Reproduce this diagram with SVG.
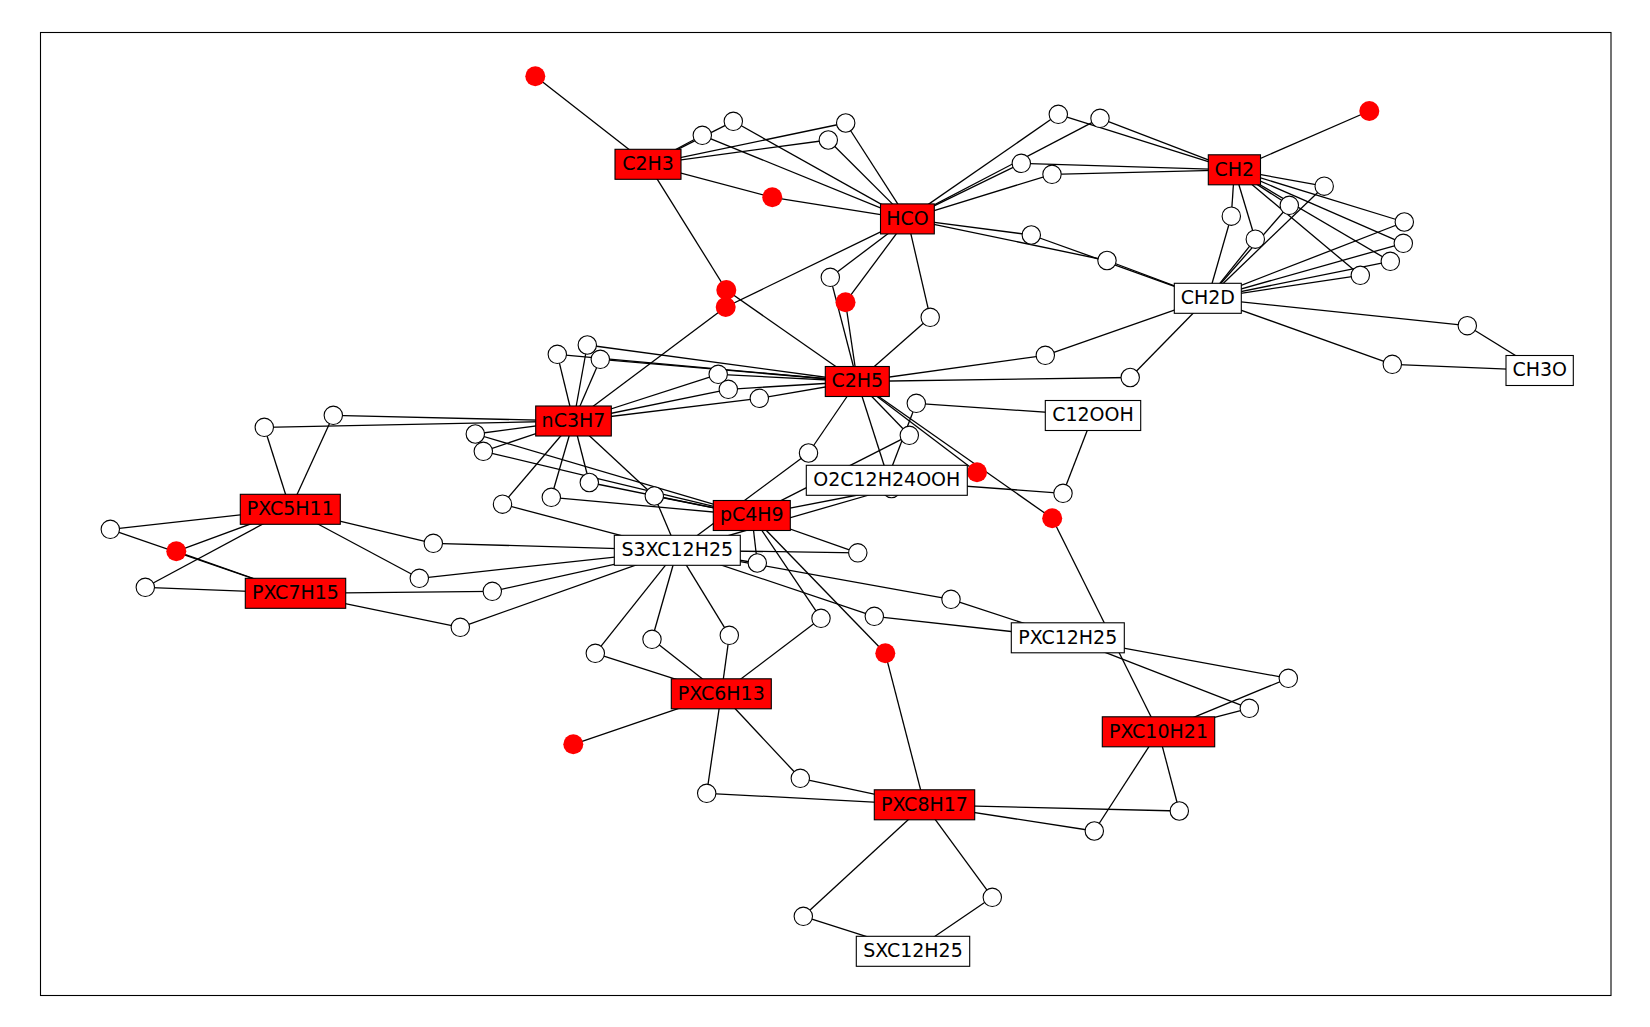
<svg xmlns="http://www.w3.org/2000/svg" width="1650" height="1027" viewBox="0 0 1650 1027">
<style>
.e line{stroke:#000;stroke-width:1.3}
.w{fill:#fff;stroke:#000;stroke-width:1.1}
.r{fill:#f00;stroke:none}
.bw{fill:#fff;stroke:#000;stroke-width:1.1}
.br{fill:#f00;stroke:#000;stroke-width:1.1}
text{font-family:"DejaVu Sans","Liberation Sans",sans-serif;font-size:19px;text-anchor:middle;fill:#000}
</style>
<rect x="0" y="0" width="1650" height="1027" fill="#fff"/>
<rect x="40.5" y="32.5" width="1570.5" height="963" fill="none" stroke="#000" stroke-width="1.1"/>
<g id="connectors" class="e">
<line x1="648" y1="164.3" x2="535.3" y2="76.3"/>
<line x1="648" y1="164.3" x2="702.3" y2="135.3"/>
<line x1="648" y1="164.3" x2="733.3" y2="121.3"/>
<line x1="648" y1="164.3" x2="845.7" y2="123"/>
<line x1="648" y1="164.3" x2="828.3" y2="140"/>
<line x1="648" y1="164.3" x2="772.3" y2="197.3"/>
<line x1="648" y1="164.3" x2="726.3" y2="290"/>
<line x1="907.4" y1="218.9" x2="702.3" y2="135.3"/>
<line x1="907.4" y1="218.9" x2="733.3" y2="121.3"/>
<line x1="907.4" y1="218.9" x2="845.7" y2="123"/>
<line x1="907.4" y1="218.9" x2="828.3" y2="140"/>
<line x1="907.4" y1="218.9" x2="772.3" y2="197.3"/>
<line x1="907.4" y1="218.9" x2="725.7" y2="307"/>
<line x1="907.4" y1="218.9" x2="830.3" y2="277.3"/>
<line x1="907.4" y1="218.9" x2="845.5" y2="302.2"/>
<line x1="907.4" y1="218.9" x2="930.2" y2="317.3"/>
<line x1="907.4" y1="218.9" x2="1058.3" y2="114.3"/>
<line x1="907.4" y1="218.9" x2="1100" y2="118.3"/>
<line x1="907.4" y1="218.9" x2="1021.3" y2="163.3"/>
<line x1="907.4" y1="218.9" x2="1052" y2="174.3"/>
<line x1="907.4" y1="218.9" x2="1031.3" y2="235"/>
<line x1="907.4" y1="218.9" x2="1107" y2="260.5"/>
<line x1="1234.4" y1="169.8" x2="1058.3" y2="114.3"/>
<line x1="1234.4" y1="169.8" x2="1100" y2="118.3"/>
<line x1="1234.4" y1="169.8" x2="1021.3" y2="163.3"/>
<line x1="1234.4" y1="169.8" x2="1052" y2="174.3"/>
<line x1="1234.4" y1="169.8" x2="1369.3" y2="111"/>
<line x1="1234.4" y1="169.8" x2="1324.2" y2="186.2"/>
<line x1="1234.4" y1="169.8" x2="1289.3" y2="205.3"/>
<line x1="1234.4" y1="169.8" x2="1231.3" y2="216.2"/>
<line x1="1234.4" y1="169.8" x2="1255.3" y2="239.2"/>
<line x1="1234.4" y1="169.8" x2="1404.3" y2="222"/>
<line x1="1234.4" y1="169.8" x2="1403.3" y2="243.3"/>
<line x1="1234.4" y1="169.8" x2="1390.3" y2="261.3"/>
<line x1="1234.4" y1="169.8" x2="1360.3" y2="275.3"/>
<line x1="1207.8" y1="298.3" x2="1324.2" y2="186.2"/>
<line x1="1207.8" y1="298.3" x2="1289.3" y2="205.3"/>
<line x1="1207.8" y1="298.3" x2="1231.3" y2="216.2"/>
<line x1="1207.8" y1="298.3" x2="1255.3" y2="239.2"/>
<line x1="1207.8" y1="298.3" x2="1404.3" y2="222"/>
<line x1="1207.8" y1="298.3" x2="1403.3" y2="243.3"/>
<line x1="1207.8" y1="298.3" x2="1390.3" y2="261.3"/>
<line x1="1207.8" y1="298.3" x2="1360.3" y2="275.3"/>
<line x1="1207.8" y1="298.3" x2="1031.3" y2="235"/>
<line x1="1207.8" y1="298.3" x2="1107" y2="260.5"/>
<line x1="1207.8" y1="298.3" x2="1045.3" y2="355.3"/>
<line x1="1207.8" y1="298.3" x2="1130.2" y2="377.5"/>
<line x1="1207.8" y1="298.3" x2="1467.3" y2="325.7"/>
<line x1="1207.8" y1="298.3" x2="1392.3" y2="364.3"/>
<line x1="1539.7" y1="370.5" x2="1467.3" y2="325.7"/>
<line x1="1539.7" y1="370.5" x2="1392.3" y2="364.3"/>
<line x1="857.3" y1="381.5" x2="726.3" y2="290"/>
<line x1="857.3" y1="381.5" x2="830.3" y2="277.3"/>
<line x1="857.3" y1="381.5" x2="845.5" y2="302.2"/>
<line x1="857.3" y1="381.5" x2="930.2" y2="317.3"/>
<line x1="857.3" y1="381.5" x2="1045.3" y2="355.3"/>
<line x1="857.3" y1="381.5" x2="1130.2" y2="377.5"/>
<line x1="857.3" y1="381.5" x2="557.3" y2="354.3"/>
<line x1="857.3" y1="381.5" x2="587.3" y2="345"/>
<line x1="857.3" y1="381.5" x2="600.3" y2="359.3"/>
<line x1="857.3" y1="381.5" x2="718.2" y2="374.3"/>
<line x1="857.3" y1="381.5" x2="728.3" y2="389.3"/>
<line x1="857.3" y1="381.5" x2="759.3" y2="398.3"/>
<line x1="857.3" y1="381.5" x2="808.5" y2="453"/>
<line x1="857.3" y1="381.5" x2="909.3" y2="435.3"/>
<line x1="857.3" y1="381.5" x2="891.5" y2="488.5"/>
<line x1="857.3" y1="381.5" x2="977" y2="472.3"/>
<line x1="857.3" y1="381.5" x2="1052.2" y2="518.3"/>
<line x1="573.5" y1="421" x2="725.7" y2="307"/>
<line x1="573.5" y1="421" x2="557.3" y2="354.3"/>
<line x1="573.5" y1="421" x2="587.3" y2="345"/>
<line x1="573.5" y1="421" x2="600.3" y2="359.3"/>
<line x1="573.5" y1="421" x2="718.2" y2="374.3"/>
<line x1="573.5" y1="421" x2="728.3" y2="389.3"/>
<line x1="573.5" y1="421" x2="759.3" y2="398.3"/>
<line x1="573.5" y1="421" x2="475.3" y2="434"/>
<line x1="573.5" y1="421" x2="483.3" y2="451.3"/>
<line x1="573.5" y1="421" x2="589.3" y2="482.5"/>
<line x1="573.5" y1="421" x2="551.3" y2="497.3"/>
<line x1="573.5" y1="421" x2="654.3" y2="496"/>
<line x1="573.5" y1="421" x2="502.5" y2="504.2"/>
<line x1="573.5" y1="421" x2="264.3" y2="427.3"/>
<line x1="573.5" y1="421" x2="333.3" y2="415.3"/>
<line x1="1093" y1="415.5" x2="916.3" y2="403.3"/>
<line x1="1093" y1="415.5" x2="1063" y2="493.3"/>
<line x1="886.8" y1="480.3" x2="916.3" y2="403.3"/>
<line x1="886.8" y1="480.3" x2="1063" y2="493.3"/>
<line x1="751.8" y1="515.5" x2="475.3" y2="434"/>
<line x1="751.8" y1="515.5" x2="483.3" y2="451.3"/>
<line x1="751.8" y1="515.5" x2="589.3" y2="482.5"/>
<line x1="751.8" y1="515.5" x2="551.3" y2="497.3"/>
<line x1="751.8" y1="515.5" x2="654.3" y2="496"/>
<line x1="751.8" y1="515.5" x2="909.3" y2="435.3"/>
<line x1="751.8" y1="515.5" x2="891.5" y2="488.5"/>
<line x1="751.8" y1="515.5" x2="857.8" y2="552.8"/>
<line x1="751.8" y1="515.5" x2="757.3" y2="563"/>
<line x1="751.8" y1="515.5" x2="821" y2="618.3"/>
<line x1="751.8" y1="515.5" x2="885.3" y2="653.3"/>
<line x1="677.3" y1="550.3" x2="654.3" y2="496"/>
<line x1="677.3" y1="550.3" x2="502.5" y2="504.2"/>
<line x1="677.3" y1="550.3" x2="808.5" y2="453"/>
<line x1="677.3" y1="550.3" x2="891.5" y2="488.5"/>
<line x1="677.3" y1="550.3" x2="433.3" y2="543.3"/>
<line x1="677.3" y1="550.3" x2="419.3" y2="578.3"/>
<line x1="677.3" y1="550.3" x2="492.3" y2="591.3"/>
<line x1="677.3" y1="550.3" x2="460.3" y2="627.3"/>
<line x1="677.3" y1="550.3" x2="857.8" y2="552.8"/>
<line x1="677.3" y1="550.3" x2="757.3" y2="563"/>
<line x1="677.3" y1="550.3" x2="951" y2="599.3"/>
<line x1="677.3" y1="550.3" x2="874.3" y2="616.3"/>
<line x1="677.3" y1="550.3" x2="595.3" y2="653.3"/>
<line x1="677.3" y1="550.3" x2="652" y2="639.3"/>
<line x1="677.3" y1="550.3" x2="729.3" y2="635.3"/>
<line x1="290.3" y1="509.3" x2="264.3" y2="427.3"/>
<line x1="290.3" y1="509.3" x2="333.3" y2="415.3"/>
<line x1="290.3" y1="509.3" x2="110.3" y2="529.3"/>
<line x1="290.3" y1="509.3" x2="176.3" y2="551.3"/>
<line x1="290.3" y1="509.3" x2="145.3" y2="587.3"/>
<line x1="290.3" y1="509.3" x2="433.3" y2="543.3"/>
<line x1="290.3" y1="509.3" x2="419.3" y2="578.3"/>
<line x1="295.5" y1="593.3" x2="110.3" y2="529.3"/>
<line x1="295.5" y1="593.3" x2="176.3" y2="551.3"/>
<line x1="295.5" y1="593.3" x2="145.3" y2="587.3"/>
<line x1="295.5" y1="593.3" x2="492.3" y2="591.3"/>
<line x1="295.5" y1="593.3" x2="460.3" y2="627.3"/>
<line x1="1067.8" y1="637.8" x2="951" y2="599.3"/>
<line x1="1067.8" y1="637.8" x2="874.3" y2="616.3"/>
<line x1="1067.8" y1="637.8" x2="1288.3" y2="678.3"/>
<line x1="1067.8" y1="637.8" x2="1249.3" y2="708.3"/>
<line x1="1158.5" y1="731.8" x2="1052.2" y2="518.3"/>
<line x1="1158.5" y1="731.8" x2="1288.3" y2="678.3"/>
<line x1="1158.5" y1="731.8" x2="1249.3" y2="708.3"/>
<line x1="1158.5" y1="731.8" x2="1179.3" y2="811"/>
<line x1="1158.5" y1="731.8" x2="1094.3" y2="831"/>
<line x1="721.3" y1="693.8" x2="595.3" y2="653.3"/>
<line x1="721.3" y1="693.8" x2="652" y2="639.3"/>
<line x1="721.3" y1="693.8" x2="729.3" y2="635.3"/>
<line x1="721.3" y1="693.8" x2="821" y2="618.3"/>
<line x1="721.3" y1="693.8" x2="573.3" y2="744.3"/>
<line x1="721.3" y1="693.8" x2="706.7" y2="793.3"/>
<line x1="721.3" y1="693.8" x2="800.3" y2="778.3"/>
<line x1="924.5" y1="804.8" x2="885.3" y2="653.3"/>
<line x1="924.5" y1="804.8" x2="1179.3" y2="811"/>
<line x1="924.5" y1="804.8" x2="1094.3" y2="831"/>
<line x1="924.5" y1="804.8" x2="706.7" y2="793.3"/>
<line x1="924.5" y1="804.8" x2="800.3" y2="778.3"/>
<line x1="924.5" y1="804.8" x2="803.3" y2="916.3"/>
<line x1="924.5" y1="804.8" x2="992.3" y2="897.3"/>
<line x1="913" y1="951.3" x2="803.3" y2="916.3"/>
<line x1="913" y1="951.3" x2="992.3" y2="897.3"/>
</g>
<g id="reactions">
<g id="r1"><circle class="r" cx="535.3" cy="76.3" r="10"/></g>
<g id="w1"><circle class="w" cx="702.3" cy="135.3" r="9.2"/></g>
<g id="w2"><circle class="w" cx="733.3" cy="121.3" r="9.2"/></g>
<g id="w3"><circle class="w" cx="845.7" cy="123" r="9.2"/></g>
<g id="w4"><circle class="w" cx="828.3" cy="140" r="9.2"/></g>
<g id="r2"><circle class="r" cx="772.3" cy="197.3" r="10"/></g>
<g id="r3"><circle class="r" cx="726.3" cy="290" r="10"/></g>
<g id="r4"><circle class="r" cx="725.7" cy="307" r="10"/></g>
<g id="w5"><circle class="w" cx="830.3" cy="277.3" r="9.2"/></g>
<g id="r5"><circle class="r" cx="845.5" cy="302.2" r="10"/></g>
<g id="w6"><circle class="w" cx="1058.3" cy="114.3" r="9.2"/></g>
<g id="w7"><circle class="w" cx="1100" cy="118.3" r="9.2"/></g>
<g id="w8"><circle class="w" cx="1021.3" cy="163.3" r="9.2"/></g>
<g id="w9"><circle class="w" cx="1052" cy="174.3" r="9.2"/></g>
<g id="r6"><circle class="r" cx="1369.3" cy="111" r="10"/></g>
<g id="w10"><circle class="w" cx="1324.2" cy="186.2" r="9.2"/></g>
<g id="w11"><circle class="w" cx="1289.3" cy="205.3" r="9.2"/></g>
<g id="w12"><circle class="w" cx="1231.3" cy="216.2" r="9.2"/></g>
<g id="w13"><circle class="w" cx="1255.3" cy="239.2" r="9.2"/></g>
<g id="w14"><circle class="w" cx="1404.3" cy="222" r="9.2"/></g>
<g id="w15"><circle class="w" cx="1403.3" cy="243.3" r="9.2"/></g>
<g id="w16"><circle class="w" cx="1390.3" cy="261.3" r="9.2"/></g>
<g id="w17"><circle class="w" cx="1360.3" cy="275.3" r="9.2"/></g>
<g id="w18"><circle class="w" cx="1031.3" cy="235" r="9.2"/></g>
<g id="w19"><circle class="w" cx="1107" cy="260.5" r="9.2"/></g>
<g id="w20"><circle class="w" cx="930.2" cy="317.3" r="9.2"/></g>
<g id="w21"><circle class="w" cx="1045.3" cy="355.3" r="9.2"/></g>
<g id="w22"><circle class="w" cx="1130.2" cy="377.5" r="9.2"/></g>
<g id="w23"><circle class="w" cx="1467.3" cy="325.7" r="9.2"/></g>
<g id="w24"><circle class="w" cx="1392.3" cy="364.3" r="9.2"/></g>
<g id="w25"><circle class="w" cx="557.3" cy="354.3" r="9.2"/></g>
<g id="w26"><circle class="w" cx="587.3" cy="345" r="9.2"/></g>
<g id="w27"><circle class="w" cx="600.3" cy="359.3" r="9.2"/></g>
<g id="w28"><circle class="w" cx="718.2" cy="374.3" r="9.2"/></g>
<g id="w29"><circle class="w" cx="728.3" cy="389.3" r="9.2"/></g>
<g id="w30"><circle class="w" cx="759.3" cy="398.3" r="9.2"/></g>
<g id="w31"><circle class="w" cx="475.3" cy="434" r="9.2"/></g>
<g id="w32"><circle class="w" cx="483.3" cy="451.3" r="9.2"/></g>
<g id="w33"><circle class="w" cx="589.3" cy="482.5" r="9.2"/></g>
<g id="w34"><circle class="w" cx="551.3" cy="497.3" r="9.2"/></g>
<g id="w35"><circle class="w" cx="654.3" cy="496" r="9.2"/></g>
<g id="w36"><circle class="w" cx="502.5" cy="504.2" r="9.2"/></g>
<g id="w37"><circle class="w" cx="808.5" cy="453" r="9.2"/></g>
<g id="w38"><circle class="w" cx="857.8" cy="552.8" r="9.2"/></g>
<g id="w39"><circle class="w" cx="909.3" cy="435.3" r="9.2"/></g>
<g id="w40"><circle class="w" cx="916.3" cy="403.3" r="9.2"/></g>
<g id="w41"><circle class="w" cx="891.5" cy="488.5" r="9.2"/></g>
<g id="r7"><circle class="r" cx="977" cy="472.3" r="10"/></g>
<g id="w42"><circle class="w" cx="1063" cy="493.3" r="9.2"/></g>
<g id="r8"><circle class="r" cx="1052.2" cy="518.3" r="10"/></g>
<g id="w46"><circle class="w" cx="264.3" cy="427.3" r="9.2"/></g>
<g id="w47"><circle class="w" cx="333.3" cy="415.3" r="9.2"/></g>
<g id="w48"><circle class="w" cx="110.3" cy="529.3" r="9.2"/></g>
<g id="r9"><circle class="r" cx="176.3" cy="551.3" r="10"/></g>
<g id="w49"><circle class="w" cx="145.3" cy="587.3" r="9.2"/></g>
<g id="w50"><circle class="w" cx="433.3" cy="543.3" r="9.2"/></g>
<g id="w51"><circle class="w" cx="419.3" cy="578.3" r="9.2"/></g>
<g id="w52"><circle class="w" cx="492.3" cy="591.3" r="9.2"/></g>
<g id="w53"><circle class="w" cx="460.3" cy="627.3" r="9.2"/></g>
<g id="w55"><circle class="w" cx="757.3" cy="563" r="9.2"/></g>
<g id="w56"><circle class="w" cx="951" cy="599.3" r="9.2"/></g>
<g id="w57"><circle class="w" cx="874.3" cy="616.3" r="9.2"/></g>
<g id="w58"><circle class="w" cx="821" cy="618.3" r="9.2"/></g>
<g id="r10"><circle class="r" cx="885.3" cy="653.3" r="10"/></g>
<g id="w59"><circle class="w" cx="595.3" cy="653.3" r="9.2"/></g>
<g id="w60"><circle class="w" cx="652" cy="639.3" r="9.2"/></g>
<g id="w61"><circle class="w" cx="729.3" cy="635.3" r="9.2"/></g>
<g id="r11"><circle class="r" cx="573.3" cy="744.3" r="10"/></g>
<g id="w62"><circle class="w" cx="1288.3" cy="678.3" r="9.2"/></g>
<g id="w63"><circle class="w" cx="1249.3" cy="708.3" r="9.2"/></g>
<g id="w64"><circle class="w" cx="1179.3" cy="811" r="9.2"/></g>
<g id="w65"><circle class="w" cx="1094.3" cy="831" r="9.2"/></g>
<g id="w66"><circle class="w" cx="706.7" cy="793.3" r="9.2"/></g>
<g id="w67"><circle class="w" cx="800.3" cy="778.3" r="9.2"/></g>
<g id="w68"><circle class="w" cx="803.3" cy="916.3" r="9.2"/></g>
<g id="w69"><circle class="w" cx="992.3" cy="897.3" r="9.2"/></g>
</g>
<g id="species">
<g id="C2H3"><rect class="br" x="615" y="149.3" width="66" height="30"/><text x="648" y="170">C2H3</text></g>
<g id="HCO"><rect class="br" x="880.5" y="203.9" width="53.8" height="30"/><text x="907.4" y="224.6">HCO</text></g>
<g id="CH2"><rect class="br" x="1208.3" y="154.8" width="52.2" height="30"/><text x="1234.4" y="175.5">CH2</text></g>
<g id="CH2D"><rect class="bw" x="1174.3" y="283.3" width="67" height="30"/><text x="1207.8" y="304">CH2D</text></g>
<g id="CH3O"><rect class="bw" x="1506" y="355.5" width="67.3" height="30"/><text x="1539.7" y="376.2">CH3O</text></g>
<g id="C2H5"><rect class="br" x="825.3" y="366.5" width="64" height="30"/><text x="857.3" y="387.2">C2H5</text></g>
<g id="nC3H7"><rect class="br" x="535.7" y="406" width="75.6" height="30"/><text x="573.5" y="426.7">nC3H7</text></g>
<g id="C12OOH"><rect class="bw" x="1045.3" y="400.5" width="95.4" height="30"/><text x="1093" y="421.2">C12OOH</text></g>
<g id="O2C12H24OOH"><rect class="bw" x="806.3" y="465.3" width="161" height="30"/><text x="886.8" y="486">O2C12H24OOH</text></g>
<g id="pC4H9"><rect class="br" x="713.3" y="500.5" width="77" height="30"/><text x="751.8" y="521.2">pC4H9</text></g>
<g id="S3XC12H25"><rect class="bw" x="614.3" y="535.3" width="126" height="30"/><text x="677.3" y="556">S3XC12H25</text></g>
<g id="PXC5H11"><rect class="br" x="240.3" y="494.3" width="100" height="30"/><text x="290.3" y="515">PXC5H11</text></g>
<g id="PXC7H15"><rect class="br" x="245.3" y="578.3" width="100.4" height="30"/><text x="295.5" y="599">PXC7H15</text></g>
<g id="PXC12H25"><rect class="bw" x="1011.3" y="622.8" width="113" height="30"/><text x="1067.8" y="643.5">PXC12H25</text></g>
<g id="PXC10H21"><rect class="br" x="1102.3" y="716.8" width="112.4" height="30"/><text x="1158.5" y="737.5">PXC10H21</text></g>
<g id="PXC6H13"><rect class="br" x="671.3" y="678.8" width="100" height="30"/><text x="721.3" y="699.5">PXC6H13</text></g>
<g id="PXC8H17"><rect class="br" x="874.3" y="789.8" width="100.4" height="30"/><text x="924.5" y="810.5">PXC8H17</text></g>
<g id="SXC12H25"><rect class="bw" x="856.3" y="936.3" width="113.4" height="30"/><text x="913" y="957">SXC12H25</text></g>
</g>
</svg>
